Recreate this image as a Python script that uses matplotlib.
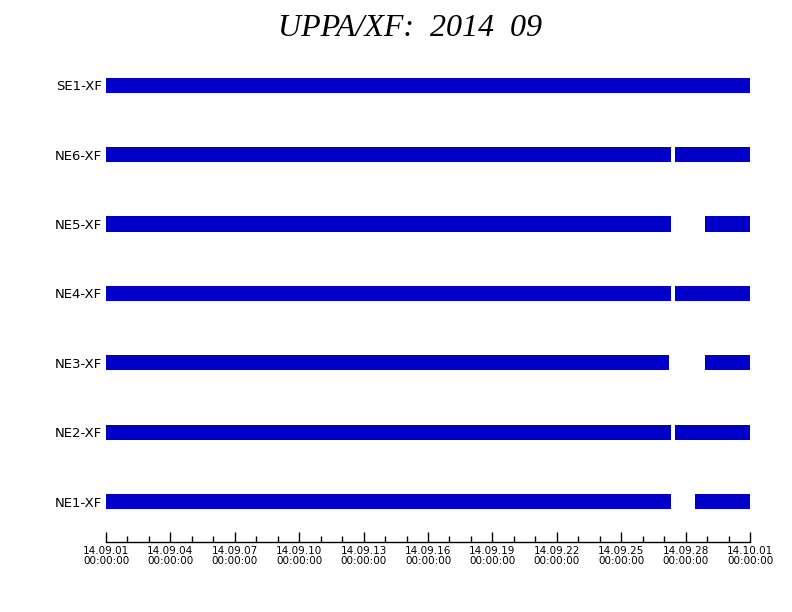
import matplotlib
matplotlib.use("Agg")
import matplotlib.pyplot as plt
import matplotlib.dates as mdates
from datetime import datetime

# stations, bottom to top
stations = ["NE1-XF", "NE2-XF", "NE3-XF", "NE4-XF", "NE5-XF", "NE6-XF", "SE1-XF"]

# data coverage segments (start, end) per station
coverage = {
    "NE1-XF": [("2014-09-01 00:00", "2014-09-27 08:00"), ("2014-09-28 10:20", "2014-10-01 00:00")],
    "NE2-XF": [("2014-09-01 00:00", "2014-09-27 08:00"), ("2014-09-27 12:00", "2014-10-01 00:00")],
    "NE3-XF": [("2014-09-01 00:00", "2014-09-27 05:20"), ("2014-09-28 21:30", "2014-10-01 00:00")],
    "NE4-XF": [("2014-09-01 00:00", "2014-09-27 08:00"), ("2014-09-27 12:00", "2014-10-01 00:00")],
    "NE5-XF": [("2014-09-01 00:00", "2014-09-27 08:00"), ("2014-09-28 21:30", "2014-10-01 00:00")],
    "NE6-XF": [("2014-09-01 00:00", "2014-09-27 08:00"), ("2014-09-27 12:00", "2014-10-01 00:00")],
    "SE1-XF": [("2014-09-01 00:00", "2014-10-01 00:00")],
}

t0 = datetime(2014, 9, 1)
t1 = datetime(2014, 10, 1)

fig = plt.figure(figsize=(7.92, 6.12), dpi=100)
ax = fig.add_axes([106 / 792, 1 - 542 / 612, 644 / 792, 482 / 612])

fmt = "%Y-%m-%d %H:%M"
for i, st in enumerate(stations):
    for s, e in coverage[st]:
        s = mdates.date2num(datetime.strptime(s, fmt))
        e = mdates.date2num(datetime.strptime(e, fmt))
        ax.barh(i, e - s, left=s, height=0.216, color="#0000C8", linewidth=0)

ax.set_xlim(mdates.date2num(t0), mdates.date2num(t1))
ax.set_ylim(-0.576, 6.36)

ax.set_yticks(range(len(stations)))
ax.set_yticklabels(stations, fontsize=9.5, family="DejaVu Sans")
ax.tick_params(axis="y", length=0, pad=3)

ax.xaxis.set_major_locator(mdates.DayLocator(bymonthday=[1, 4, 7, 10, 13, 16, 19, 22, 25, 28]))
ax.xaxis.set_minor_locator(mdates.DayLocator())
ax.xaxis.set_major_formatter(mdates.DateFormatter("%y.%m.%d\n%H:%M:%S"))
ax.tick_params(axis="x", which="major", direction="in", length=7, width=1, pad=3,
               labelsize=7.5)
ax.tick_params(axis="x", which="minor", direction="in", length=4, width=1)
for lab in ax.get_xticklabels():
    lab.set_linespacing(0.95)

for sp in ["left", "right", "top"]:
    ax.spines[sp].set_visible(False)
ax.spines["bottom"].set_linewidth(1)

fig.text(410 / 792, 1 - 29 / 612, "UPPA/XF:  2014  09", ha="center", va="center",
         fontsize=23, family="Liberation Serif", style="italic")

fig.savefig("out.png", dpi=100)
